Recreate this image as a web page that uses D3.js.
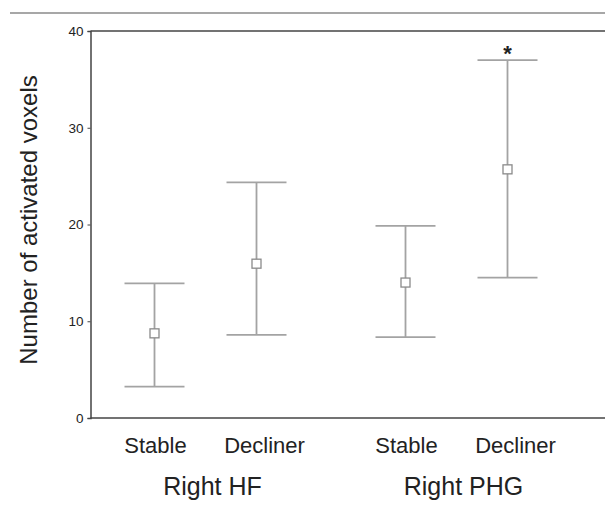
<!DOCTYPE html>
<html>
<head>
<meta charset="utf-8">
<script src="https://cdn.jsdelivr.net/npm/d3@7"></script>
<style>
  body { margin: 0; background: #fff; }
  text { font-family: "Liberation Sans", Arial, sans-serif; fill: #222; }
</style>
</head>
<body>
<svg id="chart"></svg>
<script>
// regions and groups as on the x axis
let regions = ["Right HF", "Right PHG"];
let groups = ["Stable", "Decliner"];
// mean and error bar ends, one entry per region/group
let means = [8.75, 15.95, 14.0, 25.7];
let lowers = [3.25, 8.6, 8.35, 14.5];
let uppers = [13.92, 24.36, 19.85, 37.0];
let yTicks = [0, 10, 20, 30, 40];

let width = 605, height = 511;
let margin = {top: 31, right: 0, bottom: 93, left: 90.5};

let svg = d3.select("#chart").attr("width", width).attr("height", height);

let y = d3.scaleLinear().domain([0, 40]).range([height - margin.bottom, margin.top]);
let xRegion = d3.scaleBand().domain(regions).range([80, 582]);
let xGroup = d3.scalePoint().domain(groups).range([-51, 51]);

let data = [];
regions.forEach(function(r, i){
  groups.forEach(function(g, j){
    let k = i * groups.length + j;
    data.push({region: r, group: g, mean: means[k], lo: lowers[k], hi: uppers[k]});
  });
});
function cx(d){ return xRegion(d.region) + xRegion.bandwidth() / 2 + xGroup(d.group); }

// rule across the top of the figure
svg.append("line").attr("x1", 10).attr("x2", width).attr("y1", 13).attr("y2", 13)
  .attr("stroke", "#8a8a8a").attr("stroke-width", 1.5);

// frame: top and bottom lines run to the edge
svg.append("line").attr("x1", margin.left).attr("x2", width).attr("y1", y(40)).attr("y2", y(40))
  .attr("stroke", "#444").attr("stroke-width", 1.5);
svg.append("line").attr("x1", margin.left).attr("x2", width).attr("y1", y(0)).attr("y2", y(0))
  .attr("stroke", "#444").attr("stroke-width", 1.5);

let yAxis = svg.append("g").attr("transform", "translate(" + margin.left + ",0)")
  .call(d3.axisLeft(y).tickValues(yTicks).tickSize(3).tickPadding(4));
yAxis.select(".domain").attr("stroke", "#444").attr("stroke-width", 1.5);
yAxis.selectAll(".tick line").attr("stroke", "#444");
yAxis.selectAll(".tick text").style("font-size", "13.5px").attr("fill", "#222");

svg.append("text")
  .attr("transform", "translate(37," + 220 + ") rotate(-90)")
  .attr("text-anchor", "middle")
  .style("font-size", "24px")
  .text("Number of activated voxels");

// error bars
let bars = svg.append("g").selectAll("g").data(data).enter().append("g");
let capW = 30;
bars.append("line")
  .attr("x1", cx).attr("x2", cx)
  .attr("y1", d => y(d.lo)).attr("y2", d => y(d.hi))
  .attr("stroke", "#a3a3a3").attr("stroke-width", 1.8);
bars.append("line")
  .attr("x1", d => cx(d) - capW).attr("x2", d => cx(d) + capW)
  .attr("y1", d => y(d.hi)).attr("y2", d => y(d.hi))
  .attr("stroke", "#a3a3a3").attr("stroke-width", 1.8);
bars.append("line")
  .attr("x1", d => cx(d) - capW).attr("x2", d => cx(d) + capW)
  .attr("y1", d => y(d.lo)).attr("y2", d => y(d.lo))
  .attr("stroke", "#a3a3a3").attr("stroke-width", 1.8);
bars.append("rect")
  .attr("x", d => cx(d) - 4.5).attr("y", d => y(d.mean) - 4.5)
  .attr("width", 9).attr("height", 9)
  .attr("fill", "#fff").attr("stroke", "#8a8a8a").attr("stroke-width", 1.3);

// significance mark
let sig = data[3];
svg.append("text")
  .attr("x", cx(sig)).attr("y", y(sig.hi) + 1)
  .attr("text-anchor", "middle")
  .style("font-size", "22px").style("font-weight", "bold")
  .text("*");

// group and region labels
svg.append("g").selectAll("text").data(data).enter().append("text")
  .attr("x", d => cx(d) + (d.group === "Decliner" ? 8 : 1))
  .attr("y", 453)
  .attr("text-anchor", "middle")
  .style("font-size", "22px")
  .text(d => d.group);

svg.append("g").selectAll("text").data(regions).enter().append("text")
  .attr("x", d => xRegion(d) + xRegion.bandwidth() / 2 + 7)
  .attr("y", 495)
  .attr("text-anchor", "middle")
  .style("font-size", "25px")
  .text(d => d);
</script>
</body>
</html>
